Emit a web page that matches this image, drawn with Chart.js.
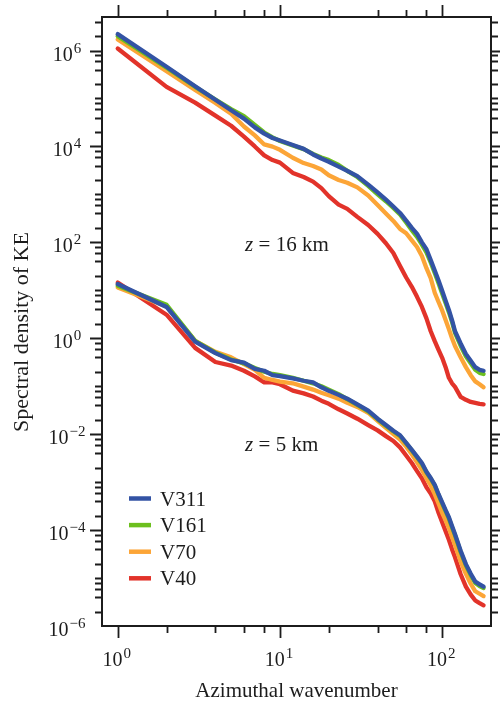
<!DOCTYPE html>
<html>
<head>
<meta charset="utf-8">
<script src="https://cdn.jsdelivr.net/npm/chart.js@4.4.1/dist/chart.umd.min.js"></script>
<style>
  html, body { margin: 0; padding: 0; background: #fff; }
  #wrap { width: 500px; height: 705px; }
</style>
</head>
<body>
<div id="wrap"><canvas id="chart" width="500" height="705"></canvas></div>
<script>
// azimuthal wavenumbers sampled along the curves
const wavenumbers = [1, 2, 3, 4, 5, 6, 7, 8, 9, 10, 12, 14, 16, 18, 20, 23, 26, 30, 35, 40, 45, 50, 55, 60, 65, 70, 75, 80, 85, 90, 95, 100, 105, 110, 115, 120, 130, 140, 150, 160, 170, 180];

// z = 16 km
const upperV311 = [2.2e6, 4.6e5, 1.8e5, 9.4e4, 5.7e4, 3.8e4, 2.5e4, 1.85e4, 1.5e4, 1.33e4, 1.07e4, 8.9e3, 6.8e3, 5.6e3, 4.8e3, 3.8e3, 3.1e3, 2.4e3, 1.6e3, 1.1e3, 7.8e2, 5.6e2, 4.1e2, 2.85e2, 2.0e2, 1.5e2, 1.0e2, 72, 43, 26, 16, 9.8, 6.1, 3.9, 2.4, 1.4, 0.78, 0.47, 0.34, 0.25, 0.22, 0.21];
const upperV161 = [2.0e6, 4.4e5, 1.75e5, 9.5e4, 6.0e4, 4.3e4, 2.8e4, 1.95e4, 1.55e4, 1.3e4, 1.05e4, 8.8e3, 7.0e3, 5.9e3, 5.2e3, 4.1e3, 3.1e3, 2.3e3, 1.5e3, 1.0e3, 7.2e2, 5.2e2, 3.8e2, 2.6e2, 1.8e2, 1.3e2, 90, 62, 38, 23, 14, 8.6, 5.4, 3.5, 2.2, 1.3, 0.7, 0.42, 0.3, 0.22, 0.19, 0.18];
const upperV70 = [1.7e6, 3.7e5, 1.5e5, 8.1e4, 4.8e4, 2.6e4, 1.7e4, 1.1e4, 9.9e3, 8.5e3, 5.8e3, 4.5e3, 3.9e3, 3.3e3, 2.5e3, 2.0e3, 1.75e3, 1.4e3, 9.5e2, 6.0e2, 4.0e2, 2.8e2, 1.9e2, 1.55e2, 1.1e2, 80, 52, 29, 18, 8.9, 5.7, 3.8, 2.4, 1.55, 1.0, 0.69, 0.40, 0.25, 0.17, 0.126, 0.11, 0.095];
const upperV40 = [1.1e6, 1.75e5, 8.2e4, 4.4e4, 2.7e4, 1.6e4, 1.0e4, 6.5e3, 5.2e3, 4.6e3, 2.8e3, 2.3e3, 1.85e3, 1.35e3, 9.2e2, 6.1e2, 5.0e2, 3.4e2, 2.3e2, 1.5e2, 96, 60, 32, 18.5, 11.8, 7.3, 4.5, 2.6, 1.4, 0.87, 0.57, 0.39, 0.25, 0.15, 0.115, 0.097, 0.06, 0.052, 0.047, 0.045, 0.043, 0.042];

// z = 5 km
const lowerV311 = [13.5, 4.5, 0.85, 0.49, 0.35, 0.31, 0.23, 0.21, 0.17, 0.163, 0.145, 0.13, 0.12, 0.095, 0.08, 0.066, 0.055, 0.042, 0.031, 0.021, 0.0155, 0.0118, 0.0095, 0.0066, 0.0047, 0.0034, 0.0025, 0.00165, 0.00122, 8.8e-4, 5.6e-4, 3.8e-4, 2.6e-4, 1.85e-4, 1.22e-4, 8.2e-5, 3.7e-5, 1.95e-5, 1.23e-5, 8.4e-6, 7.4e-6, 6.6e-6];
const lowerV161 = [12.5, 5.0, 0.88, 0.5, 0.36, 0.3, 0.24, 0.2, 0.18, 0.17, 0.15, 0.13, 0.115, 0.1, 0.085, 0.068, 0.054, 0.041, 0.03, 0.0205, 0.015, 0.0115, 0.0092, 0.0064, 0.0046, 0.0033, 0.0024, 0.0016, 0.00118, 8.5e-4, 5.4e-4, 3.6e-4, 2.5e-4, 1.75e-4, 1.15e-4, 7.8e-5, 3.5e-5, 1.85e-5, 1.15e-5, 7.9e-6, 6.8e-6, 6.2e-6];
const lowerV70 = [11.5, 4.6, 0.88, 0.52, 0.40, 0.29, 0.22, 0.15, 0.135, 0.125, 0.115, 0.098, 0.085, 0.073, 0.065, 0.055, 0.045, 0.037, 0.028, 0.019, 0.0135, 0.010, 0.0077, 0.0055, 0.0038, 0.0026, 0.0018, 0.0012, 8.5e-4, 5.6e-4, 3.6e-4, 2.3e-4, 1.6e-4, 1.1e-4, 7.2e-5, 4.9e-5, 2.2e-5, 1.22e-5, 7.6e-6, 5.3e-6, 4.7e-6, 4.2e-6];
const lowerV40 = [14.5, 3.1, 0.63, 0.32, 0.27, 0.21, 0.16, 0.12, 0.12, 0.11, 0.081, 0.071, 0.061, 0.05, 0.043, 0.033, 0.027, 0.021, 0.0155, 0.012, 0.0091, 0.0072, 0.0053, 0.0036, 0.0025, 0.0017, 0.0012, 7.8e-4, 5.8e-4, 4.0e-4, 2.3e-4, 1.45e-4, 9.5e-5, 6.3e-5, 4.0e-5, 2.7e-5, 1.2e-5, 6.6e-6, 4.5e-6, 3.4e-6, 3.0e-6, 2.7e-6];

const seriesNames = ['V311', 'V161', 'V70', 'V40'];
const seriesColors = ['#3353a4', '#6cbf1e', '#fca537', '#e2332a'];
const upperSeries = [upperV311, upperV161, upperV70, upperV40];
const lowerSeries = [lowerV311, lowerV161, lowerV70, lowerV40];

// decade labels and log minor ticks
const xLabelPowers = [0, 1, 2];
const yLabelPowers = [6, 4, 2, 0, -2, -4, -6];
const minorMantissas = [2, 4, 6, 8];

const levelLabels = [
    { text: '16 km', k: 6.1, v: 65 },
    { text: '5 km', k: 6.1, v: 0.0044 }
];

const SERIF = '"Liberation Serif", "Times New Roman", serif';
const INK = '#1c1c1c';

function makeDataset(name, color, values, group) {
    return {
        label: name + ' ' + group,
        data: wavenumbers.map((k, i) => ({ x: k, y: values[i] })),
        borderColor: color,
        backgroundColor: color,
        borderWidth: 4.3,
        pointRadius: 0,
        borderJoinStyle: 'round',
        borderCapStyle: 'round',
        tension: 0,
        fill: false
    };
}

const datasets = [];
seriesNames.forEach((n, i) => datasets.push(makeDataset(n, seriesColors[i], upperSeries[i], '(16 km)')));
seriesNames.forEach((n, i) => datasets.push(makeDataset(n, seriesColors[i], lowerSeries[i], '(5 km)')));

function powerLabel(ctx, exp, cx, baseY) {
    const sup = exp < 0 ? '\u2212' + Math.abs(exp) : String(exp);
    ctx.font = '20px ' + SERIF;
    const w1 = ctx.measureText('10').width;
    ctx.font = '15px ' + SERIF;
    const w2 = ctx.measureText(sup).width;
    const x0 = cx - (w1 + 1 + w2) / 2;
    ctx.textAlign = 'left';
    ctx.textBaseline = 'alphabetic';
    ctx.font = '20px ' + SERIF;
    ctx.fillText('10', x0, baseY);
    ctx.font = '15px ' + SERIF;
    ctx.fillText(sup, x0 + w1 + 1, baseY - 8);
}

function tickList(minPow, maxPow, lo, hi, labelled) {
    const out = [];
    for (let p = minPow; p <= maxPow; p++) {
        [1].concat(minorMantissas).forEach(m => {
            const v = m * Math.pow(10, p);
            if (v > lo * 1.0001 && v < hi * 0.9999) {
                out.push({ v: v, major: m === 1 && labelled.includes(p) });
            }
        });
    }
    return out;
}

const framePlugin = {
    id: 'frameAndLabels',
    afterDraw(chart) {
        const ctx = chart.ctx;
        const { left, right, top, bottom } = chart.chartArea;
        const xs = chart.scales.x;
        const ys = chart.scales.y;
        ctx.save();

        // box
        ctx.strokeStyle = INK;
        ctx.lineWidth = 2;
        ctx.strokeRect(left, top, right - left, bottom - top);

        // ticks, pointing outward on all four sides
        ctx.lineWidth = 1.8;
        ctx.beginPath();
        tickList(-1, 2, xs.min, xs.max, xLabelPowers).forEach(t => {
            const px = Math.round(xs.getPixelForValue(t.v)) + 0.5;
            const len = t.major ? 12 : 7;
            ctx.moveTo(px, bottom); ctx.lineTo(px, bottom + len);
            ctx.moveTo(px, top); ctx.lineTo(px, top - len);
        });
        tickList(-6, 6, ys.min, ys.max, yLabelPowers).forEach(t => {
            const py = Math.round(ys.getPixelForValue(t.v)) + 0.5;
            const len = t.major ? 12 : 7;
            ctx.moveTo(left, py); ctx.lineTo(left - len, py);
            ctx.moveTo(right, py); ctx.lineTo(right + len, py);
        });
        ctx.stroke();

        // tick labels
        ctx.fillStyle = INK;
        xLabelPowers.forEach(p => {
            powerLabel(ctx, p, xs.getPixelForValue(Math.pow(10, p)) - 1, bottom + 40);
        });
        yLabelPowers.forEach(p => {
            powerLabel(ctx, p, 67, ys.getPixelForValue(Math.pow(10, p)) + 10);
        });

        // axis titles
        ctx.font = '21px ' + SERIF;
        ctx.textAlign = 'center';
        ctx.textBaseline = 'alphabetic';
        ctx.fillText('Azimuthal wavenumber', (left + right) / 2, 697);
        ctx.save();
        ctx.translate(28, 332);
        ctx.rotate(-Math.PI / 2);
        ctx.font = '22px ' + SERIF;
        ctx.fillText('Spectral density of KE', 0, 0);
        ctx.restore();

        // level annotations
        levelLabels.forEach(a => {
            const x = xs.getPixelForValue(a.k);
            const y = ys.getPixelForValue(a.v);
            ctx.textAlign = 'left';
            ctx.font = 'italic 21px ' + SERIF;
            ctx.fillText('z', x, y);
            const wz = ctx.measureText('z').width;
            ctx.font = '21px ' + SERIF;
            ctx.fillText(' = ' + a.text, x + wz, y);
        });

        // legend
        ctx.lineCap = 'butt';
        seriesNames.forEach((n, i) => {
            const y = 498.5 + i * 26.6;
            ctx.strokeStyle = seriesColors[i];
            ctx.lineWidth = 4.5;
            ctx.beginPath();
            ctx.moveTo(129, y);
            ctx.lineTo(151, y);
            ctx.stroke();
            ctx.fillStyle = INK;
            ctx.font = '21px ' + SERIF;
            ctx.textAlign = 'left';
            ctx.fillText(n, 160, y + 7);
        });

        ctx.restore();
    }
};

new Chart(document.getElementById('chart'), {
    type: 'line',
    data: { datasets: datasets },
    options: {
        responsive: false,
        animation: false,
        devicePixelRatio: 1,
        layout: { padding: { left: 102, right: 9, top: 17, bottom: 79 } },
        plugins: {
            legend: { display: false },
            tooltip: { enabled: false }
        },
        scales: {
            x: { type: 'logarithmic', min: 0.8, max: 200, display: false },
            y: { type: 'logarithmic', min: 1e-6, max: 5e6, display: false }
        }
    },
    plugins: [framePlugin]
});
</script>
</body>
</html>
